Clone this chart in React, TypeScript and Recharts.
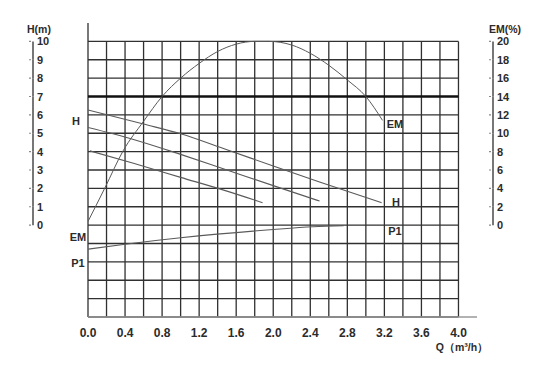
import { ComposedChart, Line, XAxis, YAxis, ReferenceLine } from "recharts";

// pump performance curves: flow Q (m³/h) against head H (m), efficiency EM (%) and input power P1
const qTicks = [0, 0.4, 0.8, 1.2, 1.6, 2.0, 2.4, 2.8, 3.2, 3.6, 4.0];
const hTicks = [0, 1, 2, 3, 4, 5, 6, 7, 8, 9, 10];
const emTicks = [0, 2, 4, 6, 8, 10, 12, 14, 16, 18, 20];

// grid cells: every 0.2 m³/h and every metre of head (down to -5 for the P1 band)
const gridQ = [0, 0.2, 0.4, 0.6, 0.8, 1.0, 1.2, 1.4, 1.6, 1.8, 2.0, 2.2, 2.4, 2.6, 2.8, 3.0, 3.2, 3.4, 3.6, 3.8, 4.0];
const gridH = [-5, -4, -3, -2, -1, 0, 1, 2, 3, 4, 5, 6, 7, 8, 9, 10];

// head curves, one per speed
const headHigh = [
  { q: 0, h: 6.27 }, { q: 0.6, h: 5.5 }, { q: 1.0, h: 4.97 }, { q: 1.5, h: 4.1 },
  { q: 2.0, h: 3.22 }, { q: 2.5, h: 2.35 }, { q: 3.17, h: 1.22 },
];
const headMid = [
  { q: 0, h: 5.31 }, { q: 0.5, h: 4.65 }, { q: 1.0, h: 3.85 }, { q: 1.5, h: 3.0 },
  { q: 2.0, h: 2.15 }, { q: 2.5, h: 1.31 },
];
const headLow = [
  { q: 0.02, h: 4.04 }, { q: 0.5, h: 3.35 }, { q: 1.0, h: 2.6 }, { q: 1.5, h: 1.85 },
  { q: 1.885, h: 1.22 },
];

const efficiency = [
  { q: 0, em: 0.4 }, { q: 0.18, em: 4.0 }, { q: 0.38, em: 8.1 }, { q: 0.6, em: 11.3 },
  { q: 0.8, em: 14.0 }, { q: 1.0, em: 16.0 }, { q: 1.2, em: 17.6 }, { q: 1.4, em: 18.9 },
  { q: 1.6, em: 19.7 }, { q: 1.8, em: 20.0 }, { q: 1.95, em: 20.0 }, { q: 2.2, em: 19.6 },
  { q: 2.4, em: 18.7 }, { q: 2.6, em: 17.4 }, { q: 2.8, em: 15.8 }, { q: 3.0, em: 14.0 },
  { q: 3.18, em: 11.4 },
];

const power = [
  { q: 0, h: -1.31 }, { q: 0.4, h: -1.04 }, { q: 1.0, h: -0.69 }, { q: 2.0, h: -0.24 },
  { q: 2.43, h: -0.09 }, { q: 2.76, h: -0.03 },
];

const W = 537;
const H = 367;
const MARGIN = { top: 23, right: 10, left: 28, bottom: 20 };
const X_AXIS_H = 30;
const H_DOMAIN: [number, number] = [-5, 11];
const PX_PER_M = (H - MARGIN.top - MARGIN.bottom - X_AXIS_H) / (H_DOMAIN[1] - H_DOMAIN[0]);
const SIDE_GAP = 55; // scale bars stand clear of the grid
const RIGHT_GAP = 16;

const FONT = "'Liberation Sans', Arial, sans-serif";
const INK = "#2b2b2b";
const GRID = "#303030";
const CURVE = "#5a5a5a";

function ScaleTick(props: any) {
  const { x, y, payload, gap } = props;
  const lx = x + gap;
  return (
    <g>
      <line x1={lx - 4} x2={lx - 2} y1={y} y2={y} stroke="#888" strokeWidth={1.2} />
      {payload.value > 0 && <line x1={lx} x2={lx} y1={y} y2={y + PX_PER_M} stroke="#555" strokeWidth={1.6} />}
      <text x={lx + 4} y={y} dy={4} fontSize={11} fontWeight="bold" fontFamily={FONT} fill={INK}>
        {payload.value}
      </text>
    </g>
  );
}

const labelStyle = { fontSize: 11, fontWeight: "bold" as const, fontFamily: FONT, fill: INK };

export default function App() {
  return (
    <div style={{ position: "absolute", left: 0, top: 0, width: W, height: H, background: "#fff" }}>
      <ComposedChart width={W} height={H} margin={MARGIN}>
        <XAxis
          type="number"
          dataKey="q"
          domain={[0, 4.2]}
          ticks={qTicks}
          interval={0}
          allowDataOverflow
          tickFormatter={(v: number) => v.toFixed(1)}
          tickLine={false}
          tickSize={0}
          tickMargin={11}
          height={X_AXIS_H}
          axisLine={{ stroke: "#999", strokeWidth: 1.5 }}
          tick={{ fontSize: 12, fontWeight: "bold", fontFamily: FONT, fill: INK }}
        />
        <YAxis
          yAxisId="h"
          orientation="left"
          type="number"
          width={60}
          domain={H_DOMAIN}
          ticks={hTicks}
          interval={0}
          allowDataOverflow
          axisLine={false}
          tickLine={false}
          tickSize={0}
          tickMargin={0}
          tick={<ScaleTick gap={-SIDE_GAP} />}
        />
        <YAxis
          yAxisId="em"
          orientation="right"
          type="number"
          width={50}
          domain={[-10, 22]}
          ticks={emTicks}
          interval={0}
          allowDataOverflow
          axisLine={false}
          tickLine={false}
          tickSize={0}
          tickMargin={0}
          tick={<ScaleTick gap={RIGHT_GAP} />}
        />

        {gridQ.map((q) => (
          <ReferenceLine
            key={`vq${q}`}
            yAxisId="h"
            segment={[{ x: q, y: -5 }, { x: q, y: q === 0 ? 11 : 10 }]}
            stroke={GRID}
            strokeWidth={1.3}
          />
        ))}
        {gridH.map((h) => (
          <ReferenceLine
            key={`hh${h}`}
            yAxisId="h"
            segment={[{ x: 0, y: h }, { x: 4, y: h }]}
            stroke={h === 7 ? "#111" : GRID}
            strokeWidth={h === 7 ? 2.4 : 1.3}
          />
        ))}

        <Line yAxisId="h" data={headHigh} dataKey="h" type="monotone" dot={false} stroke={CURVE} strokeWidth={1.1} isAnimationActive={false} />
        <Line yAxisId="h" data={headMid} dataKey="h" type="monotone" dot={false} stroke={CURVE} strokeWidth={1.1} isAnimationActive={false} />
        <Line yAxisId="h" data={headLow} dataKey="h" type="monotone" dot={false} stroke={CURVE} strokeWidth={1.1} isAnimationActive={false} />
        <Line yAxisId="em" data={efficiency} dataKey="em" type="monotone" dot={false} stroke={CURVE} strokeWidth={1} isAnimationActive={false} />
        <Line yAxisId="h" data={power} dataKey="h" type="monotone" dot={false} stroke={CURVE} strokeWidth={1.1} isAnimationActive={false} />

        <text x={39} y={33} textAnchor="middle" {...labelStyle} fontSize={10.5}>H(m)</text>
        <text x={505} y={33} textAnchor="middle" {...labelStyle} fontSize={10.5}>EM(%)</text>
        <text x={462} y={351} textAnchor="middle" {...labelStyle} fontSize={10.5}>Q（m³/h）</text>

        <text x={76} y={125} textAnchor="middle" {...labelStyle}>H</text>
        <text x={78} y={241} textAnchor="middle" {...labelStyle}>EM</text>
        <text x={78} y={267} textAnchor="middle" {...labelStyle}>P1</text>
        <text x={395} y={128} textAnchor="middle" {...labelStyle}>EM</text>
        <text x={396} y={206} textAnchor="middle" {...labelStyle}>H</text>
        <text x={395} y={235} textAnchor="middle" {...labelStyle}>P1</text>
      </ComposedChart>
    </div>
  );
}
